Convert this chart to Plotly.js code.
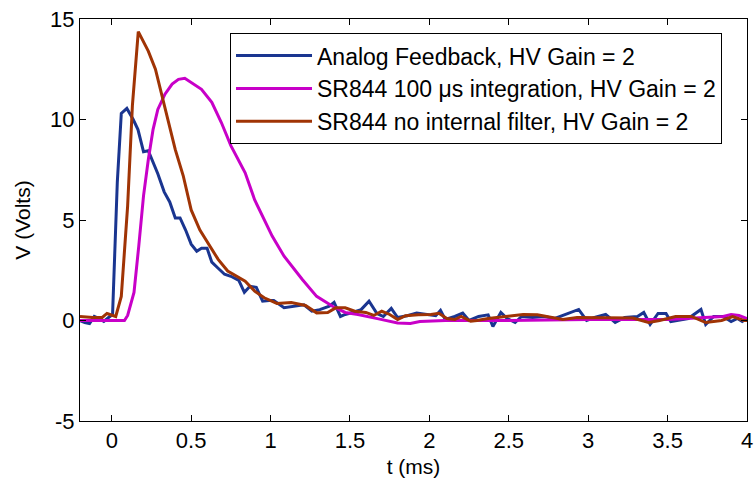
<!DOCTYPE html>
<html>
<head>
<meta charset="utf-8">
<script src="https://cdn.plot.ly/plotly-3.0.1.min.js"></script>
<style>html,body{margin:0;padding:0;background:#fff;}#chart{width:755px;height:483px;}</style>
</head>
<body>
<div id="chart"></div>
<script>
// Analog Feedback, HV Gain = 2
const tAnalog = [-0.2,-0.17,-0.14,-0.11,-0.08,-0.05,-0.02,0.005,0.035,0.06,0.095,0.135,0.165,0.2,0.23,0.26,0.29,0.33,0.365,0.4,0.43,0.465,0.5,0.535,0.565,0.6,0.63,0.67,0.71,0.75,0.8,0.835,0.87,0.91,0.95,0.99,1.02,1.085,1.15,1.21,1.26,1.31,1.37,1.40,1.44,1.47,1.52,1.57,1.62,1.67,1.71,1.76,1.80,1.86,1.92,1.98,2.04,2.07,2.10,2.16,2.21,2.25,2.31,2.37,2.40,2.45,2.49,2.54,2.58,2.65,2.72,2.79,2.86,2.94,2.99,3.04,3.11,3.17,3.23,3.31,3.35,3.39,3.44,3.49,3.52,3.58,3.63,3.71,3.74,3.79,3.85,3.90,3.94,3.97,4.0];
const vAnalog = [0.0,-0.1,-0.15,0.2,0.1,-0.05,0.15,0.3,6.9,10.3,10.55,10.0,9.5,8.4,8.45,7.9,7.3,6.4,5.9,5.1,5.1,4.5,3.8,3.45,3.6,3.6,2.9,2.6,2.3,2.2,2.0,1.4,1.7,1.65,0.96,1.0,1.0,0.64,0.7,0.78,0.46,0.54,0.71,0.9,0.2,0.3,0.41,0.54,0.96,0.35,0.2,0.6,0.15,0.24,0.37,0.3,0.24,0.5,0.05,0.2,0.37,0.0,0.2,0.28,-0.3,0.4,0.1,-0.1,0.2,0.15,0.2,0.1,0.3,0.55,0.0,0.15,0.3,-0.1,0.15,0.2,0.4,-0.2,0.35,0.35,-0.05,0.05,0.1,0.55,-0.2,0.2,0.2,-0.05,0.1,-0.05,0.1];

// SR844 100 us integration, HV Gain = 2
const tInteg = [-0.2,0.08,0.1,0.14,0.17,0.2,0.23,0.26,0.29,0.335,0.38,0.42,0.46,0.5,0.565,0.63,0.69,0.75,0.84,0.9,0.98,1.01,1.085,1.2,1.29,1.39,1.47,1.55,1.68,1.8,1.88,1.94,2.1,2.5,3.0,3.5,3.85,3.9,3.95,4.0];
const vInteg = [0,0,0.25,1.4,3.7,6.2,8.0,9.5,10.5,11.26,11.76,12.0,12.05,11.84,11.5,10.85,9.85,8.7,7.35,6.0,4.7,4.2,3.2,2.04,1.2,0.71,0.4,0.3,0.08,-0.12,-0.15,-0.05,0.0,0.0,0.05,0.05,0.2,0.3,0.25,0.1];

// SR844 no internal filter, HV Gain = 2
const tNoFilt = [-0.2,-0.12,-0.06,-0.03,0.025,0.06,0.1,0.13,0.167,0.2,0.23,0.275,0.316,0.36,0.4,0.45,0.5,0.555,0.607,0.67,0.73,0.79,0.84,0.9,0.96,1.04,1.13,1.22,1.29,1.36,1.41,1.47,1.53,1.6,1.65,1.7,1.75,1.8,1.85,1.93,2.01,2.06,2.11,2.16,2.2,2.26,2.3,2.37,2.43,2.59,2.68,2.84,2.93,3.13,3.28,3.38,3.45,3.55,3.65,3.74,3.84,3.91,3.98,4.0];
const vNoFilt = [0.2,0.15,0.15,0.35,0.2,1.2,5.7,10.7,14.37,13.9,13.4,12.5,11.2,9.7,8.5,7.2,5.5,4.5,3.87,3.04,2.46,2.2,1.96,1.46,1.13,0.85,0.9,0.75,0.38,0.4,0.63,0.63,0.46,0.4,0.25,0.46,0.3,0.05,0.24,0.28,0.3,0.36,0.1,0.05,0.2,-0.03,0.0,0.1,0.15,0.3,0.28,0.05,0.15,0.12,0.12,-0.1,0.0,0.2,0.2,-0.1,0.0,0.2,0.0,0.0];

const seriesNames = ['Analog Feedback, HV Gain = 2', 'SR844 100 \u03bcs integration, HV Gain = 2', 'SR844 no internal filter, HV Gain = 2'];
const xTicks = [0,0.5,1,1.5,2,2.5,3,3.5,4];
const yTicks = [-5,0,5,10,15];

const FONT = 'Arial, "Liberation Sans", sans-serif';
const traces = [
  {x:tAnalog, y:vAnalog, name:seriesNames[0], type:'scatter', mode:'lines', line:{color:'#1a3590', width:3}},
  {x:tInteg, y:vInteg, name:seriesNames[1], type:'scatter', mode:'lines', line:{color:'#c800c8', width:3}},
  {x:tNoFilt, y:vNoFilt, name:seriesNames[2], type:'scatter', mode:'lines', line:{color:'#a03405', width:3}}
];
const axisCommon = {showgrid:false, zeroline:false, showline:true, linecolor:'#000', linewidth:1, mirror:'ticks', ticks:'inside', ticklen:6, tickcolor:'#000', tickfont:{family:FONT, size:22, color:'#000'}};
const layout = {
  width:755, height:483,
  margin:{l:80, r:8, t:19, b:62},
  paper_bgcolor:'#fff', plot_bgcolor:'#fff',
  font:{family:FONT, color:'#000'},
  showlegend:true,
  legend:{x:0.2249, y:0.965, xanchor:'left', yanchor:'top', bgcolor:'#fff', bordercolor:'#000', borderwidth:1, font:{family:FONT, size:23, color:'#000'}, itemwidth:76, tracegroupgap:0},
  xaxis:Object.assign({}, axisCommon, {range:[-0.2,4], tickvals:xTicks, ticktext:xTicks.map(String), title:{text:'t (ms)', font:{family:FONT, size:21, color:'#000'}, standoff:6}}),
  yaxis:Object.assign({}, axisCommon, {range:[-5,15], tickvals:yTicks, ticktext:yTicks.map(String), title:{text:'V (Volts)', font:{family:FONT, size:21, color:'#000'}, standoff:13}})
};
Plotly.newPlot('chart', traces, layout, {displayModeBar:false, staticPlot:true});
</script>
</body>
</html>
